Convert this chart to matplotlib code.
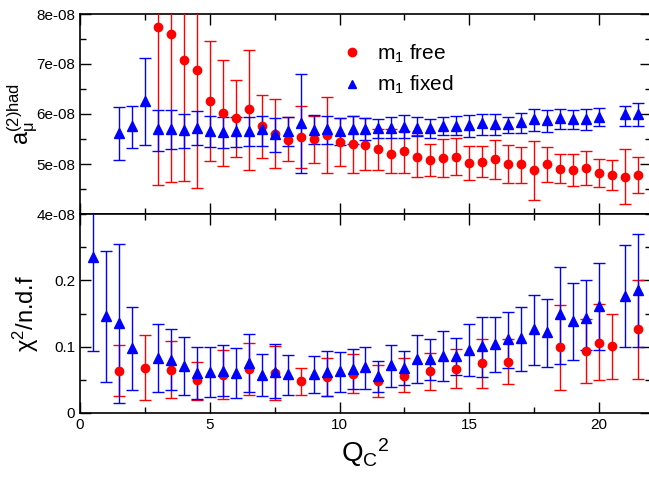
import matplotlib
matplotlib.use("Agg")
import matplotlib.pyplot as plt
from matplotlib.ticker import MultipleLocator, FuncFormatter
from matplotlib.lines import Line2D
import numpy as np

plt.rcParams['font.family'] = ['Liberation Sans', 'DejaVu Sans']
plt.rcParams['mathtext.fontset'] = 'custom'
plt.rcParams['mathtext.rm'] = 'Liberation Sans'
plt.rcParams['mathtext.it'] = 'Liberation Sans:italic'

# upper panel: a_mu^(2)had (in units of 1e-8)
x_top_free = [3.0, 3.5, 4.0, 4.5, 5.0, 5.5, 6.0, 6.5, 7.0, 7.5, 8.0, 8.5, 9.0, 9.5,
              10.0, 10.5, 11.0, 11.5, 12.0, 12.5, 13.0, 13.5, 14.0, 14.5, 15.0, 15.5,
              16.0, 16.5, 17.0, 17.5, 18.0, 18.5, 19.0, 19.5, 20.0, 20.5, 21.0, 21.5]
y_top_free = [7.75, 7.61, 7.07, 6.89, 6.27, 6.02, 5.92, 6.10, 5.77, 5.61, 5.49, 5.55, 5.51, 5.59,
              5.45, 5.40, 5.38, 5.30, 5.21, 5.26, 5.15, 5.08, 5.12, 5.15, 5.02, 5.05,
              5.10, 5.01, 5.00, 4.88, 5.00, 4.91, 4.88, 4.93, 4.83, 4.79, 4.75, 4.78]
hi_top_free = [9.3, 9.2, 8.8, 8.6, 7.46, 7.07, 6.68, 7.29, 6.39, 6.30, 5.95, 6.16, 5.97, 6.35,
               5.93, 5.97, 5.93, 5.71, 5.71, 5.66, 5.58, 5.41, 5.51, 5.53, 5.37, 5.37,
               5.49, 5.39, 5.35, 5.47, 5.35, 5.21, 5.19, 5.27, 5.11, 5.09, 5.31, 5.14]
lo_top_free = [4.59, 4.64, 4.66, 4.53, 5.07, 4.96, 5.15, 4.89, 5.12, 4.93, 5.06, 4.93, 5.03, 4.82,
               4.97, 4.82, 4.88, 4.89, 4.82, 4.82, 4.73, 4.77, 4.75, 4.79, 4.68, 4.73,
               4.71, 4.62, 4.63, 4.28, 4.64, 4.63, 4.56, 4.59, 4.54, 4.49, 4.20, 4.43]

x_top_fixed = [1.5, 2.0, 2.5, 3.0, 3.5, 4.0, 4.5, 5.0, 5.5, 6.0, 6.5, 7.0, 7.5, 8.0, 8.5,
               9.0, 9.5, 10.0, 10.5, 11.0, 11.5, 12.0, 12.5, 13.0, 13.5, 14.0, 14.5, 15.0,
               15.5, 16.0, 16.5, 17.0, 17.5, 18.0, 18.5, 19.0, 19.5, 20.0, 21.0, 21.5]
y_top_fixed = [5.63, 5.76, 6.26, 5.69, 5.71, 5.68, 5.72, 5.67, 5.65, 5.66, 5.67, 5.69, 5.61, 5.66, 5.82,
               5.68, 5.69, 5.67, 5.69, 5.71, 5.72, 5.73, 5.75, 5.73, 5.73, 5.77, 5.77, 5.79,
               5.83, 5.81, 5.81, 5.84, 5.91, 5.88, 5.92, 5.91, 5.91, 5.95, 6.00, 6.01]
hi_top_fixed = [6.15, 6.17, 7.11, 6.09, 6.09, 6.00, 6.05, 5.97, 5.95, 5.95, 5.95, 5.97, 5.93, 5.95, 6.81,
                5.98, 5.96, 5.93, 5.97, 5.93, 5.91, 5.95, 5.99, 5.95, 5.90, 5.95, 5.97, 5.98,
                6.01, 6.00, 5.94, 6.03, 6.11, 6.07, 6.11, 6.09, 6.11, 6.12, 6.17, 6.21]
lo_top_fixed = [5.09, 5.32, 5.38, 5.27, 5.30, 5.33, 5.39, 5.35, 5.33, 5.34, 5.37, 5.37, 5.25, 5.37, 4.83,
                5.40, 5.41, 5.39, 5.40, 5.48, 5.52, 5.52, 5.52, 5.56, 5.52, 5.58, 5.58, 5.55,
                5.58, 5.59, 5.63, 5.63, 5.66, 5.65, 5.69, 5.69, 5.68, 5.76, 5.76, 5.76]

# lower panel: chi^2 / n.d.f
x_bot_free = [1.5, 2.5, 3.5, 4.5, 5.5, 6.5, 7.5, 8.5, 9.5, 10.5, 11.5, 12.5, 13.5, 14.5,
              15.5, 16.5, 18.5, 19.5, 20.0, 20.5, 21.5]
y_bot_free = [0.0635, 0.068, 0.065, 0.049, 0.058, 0.066, 0.060, 0.0475, 0.0545, 0.0595, 0.048,
              0.0565, 0.063, 0.067, 0.075, 0.0775, 0.0995, 0.0935, 0.105, 0.101, 0.127]
hi_bot_free = [0.1025, 0.1175, 0.1085, 0.0775, 0.0945, 0.1055, 0.101, 0.068, 0.0825, 0.0895, 0.073,
               0.0825, 0.091, 0.0965, 0.111, 0.1115, 0.1635, 0.1415, 0.1645, 0.1495, 0.201]
lo_bot_free = [0.025, 0.019, 0.022, 0.020, 0.021, 0.0265, 0.0195, 0.027, 0.0255, 0.0295, 0.024,
               0.031, 0.035, 0.038, 0.038, 0.044, 0.0345, 0.045, 0.049, 0.052, 0.052]

x_bot_fixed = [0.5, 1.0, 1.5, 2.0, 3.0, 3.5, 4.0, 4.5, 5.0, 5.5, 6.0, 6.5, 7.0, 7.5, 8.0,
               9.0, 9.5, 10.0, 10.5, 11.0, 11.5, 12.0, 12.5, 13.0, 13.5, 14.0, 14.5, 15.0,
               15.5, 16.0, 16.5, 17.0, 17.5, 18.0, 18.5, 19.0, 19.5, 20.0, 21.0, 21.5]
y_bot_fixed = [0.2355, 0.1455, 0.1355, 0.098, 0.0835, 0.0805, 0.071, 0.0605, 0.0625, 0.0635, 0.061,
               0.076, 0.058, 0.0615, 0.0585, 0.059, 0.0615, 0.064, 0.066, 0.070, 0.0565, 0.0725,
               0.068, 0.0815, 0.081, 0.0865, 0.0855, 0.095, 0.1005, 0.104, 0.1115, 0.113, 0.1265,
               0.122, 0.1485, 0.1385, 0.1435, 0.1615, 0.177, 0.186]
hi_bot_fixed = [0.38, 0.2435, 0.2555, 0.1605, 0.134, 0.126, 0.115, 0.100, 0.100, 0.103, 0.0975,
                0.1185, 0.0885, 0.1045, 0.0875, 0.0865, 0.093, 0.0925, 0.0965, 0.100, 0.079, 0.1025,
                0.0935, 0.1175, 0.1115, 0.123, 0.1125, 0.134, 0.1445, 0.1445, 0.153, 0.160, 0.1775,
                0.172, 0.2195, 0.1955, 0.2005, 0.226, 0.2535, 0.2705]
lo_bot_fixed = [0.0935, 0.047, 0.015, 0.0345, 0.031, 0.035, 0.0265, 0.0205, 0.0245, 0.0255, 0.023,
                0.0315, 0.026, 0.022, 0.0265, 0.0295, 0.0255, 0.031, 0.0355, 0.036, 0.031, 0.0395,
                0.0415, 0.0445, 0.049, 0.048, 0.058, 0.0555, 0.054, 0.0615, 0.0675, 0.063, 0.073,
                0.070, 0.0745, 0.0805, 0.0945, 0.0945, 0.100, 0.100]

RED = '#ff0000'
BLUE = '#0000ff'


def draw(ax, x, y, lo, hi, color, marker, ms, scale=1.0):
    y = np.array(y) * scale
    err = [y - np.array(lo) * scale, np.array(hi) * scale - y]
    ax.errorbar(x, y, yerr=err, fmt=marker, color=color, ms=ms, mec=color,
                elinewidth=1.0, capsize=4.5, capthick=1.0, zorder=3)


fig = plt.figure(figsize=(6.49, 4.82), dpi=100)
W, H = 649.0, 482.0
ax1 = fig.add_axes([80 / W, 1 - 214 / H, 571 / W, 200 / H])
ax2 = fig.add_axes([80 / W, 1 - 413 / H, 571 / W, 199 / H])

draw(ax1, x_top_free, y_top_free, lo_top_free, hi_top_free, RED, 'o', 6, 1e-8)
draw(ax1, x_top_fixed, y_top_fixed, lo_top_fixed, hi_top_fixed, BLUE, '^', 6.5, 1e-8)
draw(ax2, x_bot_free, y_bot_free, lo_bot_free, hi_bot_free, RED, 'o', 6)
draw(ax2, x_bot_fixed, y_bot_fixed, lo_bot_fixed, hi_bot_fixed, BLUE, '^', 6.5)

for ax in (ax1, ax2):
    ax.set_xlim(0, 22)
    ax.xaxis.set_major_locator(MultipleLocator(5))
    ax.xaxis.set_minor_locator(MultipleLocator(2.5))
    ax.tick_params(which='both', direction='in', top=True, right=True, labelsize=11, width=1)
    ax.tick_params(which='major', length=8)
    ax.tick_params(which='minor', length=4)
    for s in ax.spines.values():
        s.set_linewidth(1.2)

ax1.set_ylim(4e-8, 8e-8)
ax1.yaxis.set_major_locator(MultipleLocator(1e-8))
ax1.yaxis.set_minor_locator(MultipleLocator(0.5e-8))
ax1.yaxis.set_major_formatter(FuncFormatter(lambda v, p: f"{v:.0e}"))
ax1.tick_params(labelbottom=False)
ax1.set_ylabel(r'$\mathrm{a}_{\mathrm{\mu}}^{\mathrm{(2)had}}$', fontsize=17)
ax1.yaxis.set_label_coords(-0.07, 0.5)

ax2.set_ylim(0, 0.3)
ax2.set_yticks([0, 0.1, 0.2])
ax2.yaxis.set_minor_locator(MultipleLocator(0.05))
ax2.yaxis.set_major_formatter(FuncFormatter(lambda v, p: f"{v:g}"))
ax2.set_ylabel(r'$\mathrm{\chi}^{2}$/n.d.f', fontsize=17)
ax2.yaxis.set_label_coords(-0.068, 0.5)
ax2.set_xlabel(r'$\mathrm{Q}_{\mathrm{C}}{}^{2}$', fontsize=20, labelpad=3)

handles = [Line2D([], [], ls='none', marker='o', color=RED, ms=6),
           Line2D([], [], ls='none', marker='^', color=BLUE, ms=6)]
ax1.legend(handles, [r'm$_1$ free', r'm$_1$ fixed'], loc='upper left',
           bbox_to_anchor=(0.44, 0.9), frameon=False, fontsize=15,
           handlelength=1.2, handletextpad=0.6, labelspacing=0.45, borderaxespad=0)

fig.savefig('out.png', dpi=100)
